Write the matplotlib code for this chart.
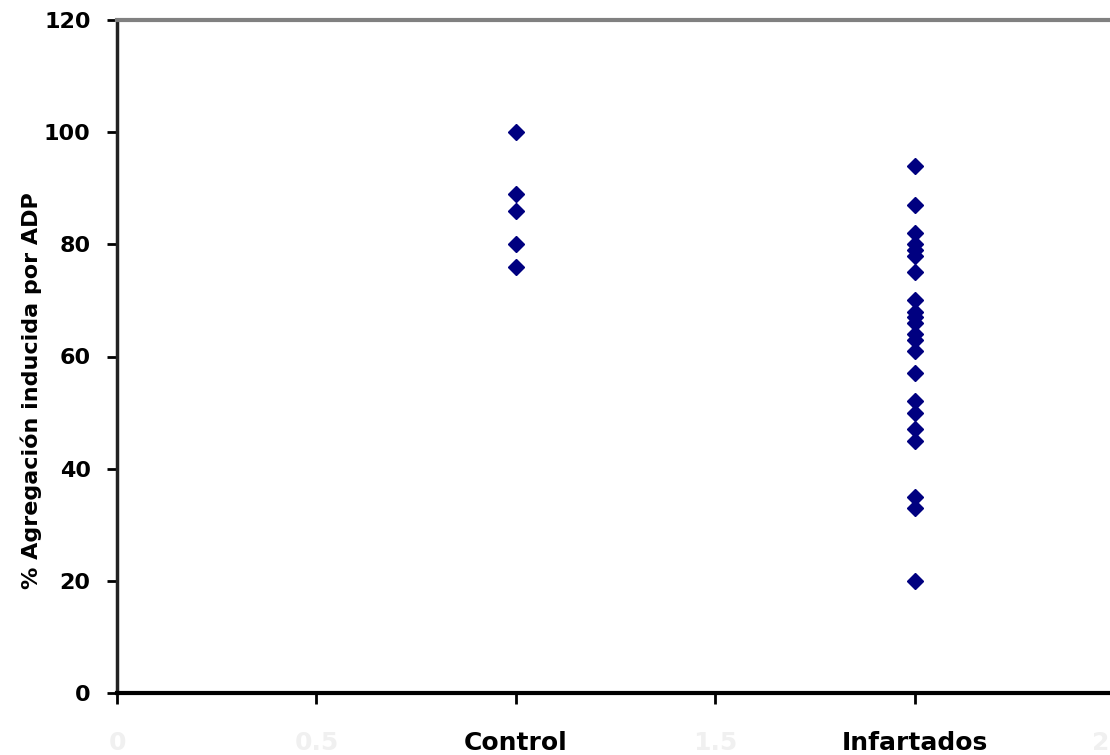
import matplotlib
matplotlib.use('Agg')
import matplotlib.pyplot as plt

# valores
control = [100, 89, 86, 80, 76]
infartados = [94, 87, 82, 80, 79, 78, 75, 70, 68, 67, 66, 64, 63, 61,
              57, 52, 50, 47, 45, 35, 33, 20]
grupos = ['Control', 'Infartados']
pos_grupos = [1, 2]
xticks = [0, 0.5, 1, 1.5, 2, 2.5]
xlabels = ['0', '0.5', 'Control', '1.5', 'Infartados', '2.5']

plt.rcParams['font.family'] = ['DejaVu Sans']
plt.rcParams['font.weight'] = 'bold'

fig = plt.figure(figsize=(11.1, 7.55), dpi=100)
ax = fig.add_axes([117/1110, 62/755, (1114-117)/1110, (693-20)/755])

ax.plot([pos_grupos[0]]*len(control), control, 'D', color='#000080',
        markersize=8, linestyle='none', clip_on=False)
ax.plot([pos_grupos[1]]*len(infartados), infartados, 'D', color='#000080',
        markersize=8, linestyle='none', clip_on=False)

ax.set_xlim(0, 2.5)
ax.set_ylim(0, 120)
ax.set_yticks(range(0, 121, 20))
ax.set_xticks(xticks)
ax.set_xticklabels(xlabels, fontsize=18, fontweight='bold')
for lab in ax.get_xticklabels():
    if lab.get_text() not in grupos:
        lab.set_color('#f0f0f0')
ax.tick_params(axis='y', labelsize=16, length=7, width=2, pad=12)
ax.tick_params(axis='x', length=8, width=2, pad=19)

ax.spines['left'].set_linewidth(2.5)
ax.spines['left'].set_color('#222222')
ax.spines['bottom'].set_linewidth(3)
ax.spines['bottom'].set_color('black')
ax.spines['top'].set_linewidth(3)
ax.spines['top'].set_color('#808080')
ax.spines['right'].set_visible(False)

ax.set_ylabel('% Agregación inducida por ADP', fontsize=16, fontweight='bold',
              labelpad=0)
ax.yaxis.set_label_coords(-0.075, 0.45)

fig.savefig('out.png', dpi=100)
